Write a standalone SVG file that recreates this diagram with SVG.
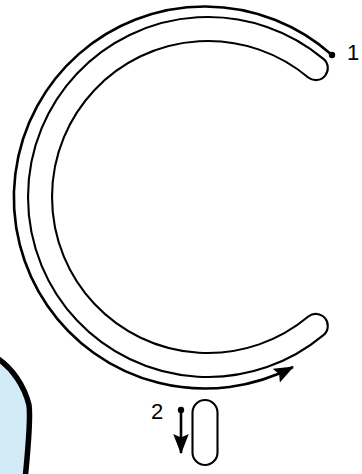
<svg xmlns="http://www.w3.org/2000/svg" width="362" height="474" viewBox="0 0 362 474">
  <style>
    .outline { fill: none; stroke: #000; stroke-width: 2.1; }
    .conn { fill: none; stroke: #000; stroke-width: 2.6; }
    .lbl { font-family: "Liberation Sans", Arial, sans-serif; font-size: 22px; fill: #000; }
  </style>
  <defs>
    <marker id="arrow2" markerUnits="userSpaceOnUse" markerWidth="20" markerHeight="16" viewBox="0 0 18 14" refX="17" refY="7" orient="auto">
      <path d="M0,0 L18,7 L0,14 L3,7 Z" fill="#000"/>
    </marker>
  </defs>
  <rect width="362" height="474" fill="#fff"/>

  <g id="blob">
    <path d="M -8 356 L -3 358 C 12 368, 24 385, 29 405 C 31 420, 28 450, 25 480 L -8 480 Z" fill="#d3eaf7" stroke="#000" stroke-width="5.5" stroke-linejoin="round"/>
  </g>

  <g id="tube">
    <path class="outline" d="M 323.7 59.1 A 180 180 0 1 0 323.7 334.9 A 12 12 0 0 0 308.3 316.5 A 156 156 0 1 1 308.3 77.5 A 12 12 0 0 0 323.7 59.1 Z"/>
  </g>

  <g id="pill">
    <rect class="outline" x="192.5" y="400" width="25" height="65" rx="12.5" ry="12.5"/>
  </g>

  <g id="connectors">
    <path class="conn" d="M 332 55 A 191 191 0 1 0 293 367" marker-end="url(#arrow2)"/>
    <circle cx="332" cy="55" r="3.2" fill="#000"/>
    <path class="conn" d="M 181 410 L 181 453" marker-end="url(#arrow2)"/>
    <circle cx="181" cy="410" r="3.2" fill="#000"/>
  </g>

  <g id="labels">
    <text class="lbl" x="347" y="60">1</text>
    <text class="lbl" x="151" y="419">2</text>
  </g>
</svg>
